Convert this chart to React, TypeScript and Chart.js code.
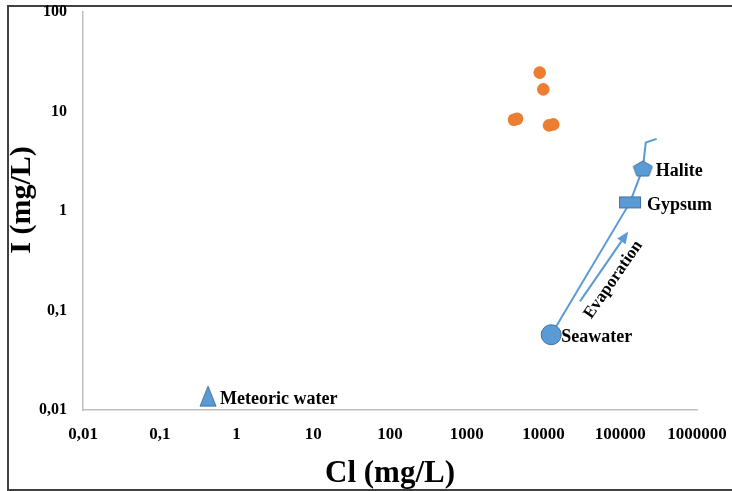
import React, { useEffect, useRef } from "react";
import { Chart, registerables } from "chart.js";

Chart.register(...registerables);

// ---- data ----
const xTickValues = [0.01, 0.1, 1, 10, 100, 1000, 10000, 100000, 1000000];
const xTickLabels = ["0,01", "0,1", "1", "10", "100", "1000", "10000", "100000", "1000000"];
const yTickValues = [0.01, 0.1, 1, 10, 100];
const yTickLabels = ["0,01", "0,1", "1", "10", "100"];

const sampleCl = [8930, 9940, 4130, 4520, 11800, 13400];
const sampleI = [24.6, 16.7, 8.27, 8.47, 7.25, 7.42];

const evapCl = [12600, 134000, 197000, 215000, 298000];
const evapI = [0.0571, 1.22, 2.68, 4.87, 5.31];

const refNames = ["Seawater", "Gypsum", "Halite", "Meteoric water"];
const refCl = [12600, 134000, 197000, 0.426];
const refI = [0.0571, 1.22, 2.68, 0.01374];

const arrowCl = [29900, 127000];
const arrowI = [0.1234, 0.622];
const evapTextCl = [81200];
const evapTextI = [0.204];

const xTitle = "Cl (mg/L)";
const yTitle = "I (mg/L)";
const evapLabel = "Evaporation";

// ---- styles ----
const BLUE = "#5B9BD5";
const BLUE_DARK = "#41719C";
const ORANGE = "#ED7D31";
const SERIF = '"Liberation Serif", "Times New Roman", serif';
const labelDx = [10, 17, 13, 12];
const labelDy = [2.5, 3, 3, 3];

function makeMarker(w: number, h: number, draw: (ctx: CanvasRenderingContext2D) => void) {
  const c = document.createElement("canvas");
  c.width = w;
  c.height = h;
  const ctx = c.getContext("2d")!;
  draw(ctx);
  return c;
}

export default function App() {
  const ref = useRef<HTMLCanvasElement | null>(null);

  useEffect(() => {
    document.body.style.margin = "0";
    const canvas = ref.current!;

    const rectImg = makeMarker(24, 14, (ctx) => {
      ctx.fillStyle = BLUE;
      ctx.fillRect(1, 1, 22, 12);
      ctx.strokeStyle = BLUE_DARK;
      ctx.lineWidth = 1;
      ctx.strokeRect(1.5, 1.5, 21, 11);
    });
    const pentImg = makeMarker(21, 17, (ctx) => {
      ctx.beginPath();
      ctx.moveTo(10.5, 1);
      ctx.lineTo(20, 6.5);
      ctx.lineTo(16.5, 16);
      ctx.lineTo(4.5, 16);
      ctx.lineTo(1, 6.5);
      ctx.closePath();
      ctx.fillStyle = BLUE;
      ctx.fill();
      ctx.strokeStyle = BLUE_DARK;
      ctx.lineWidth = 1;
      ctx.stroke();
    });
    const triImg = makeMarker(18, 22, (ctx) => {
      ctx.beginPath();
      ctx.moveTo(9, 1);
      ctx.lineTo(17, 21);
      ctx.lineTo(1, 21);
      ctx.closePath();
      ctx.fillStyle = BLUE;
      ctx.fill();
      ctx.strokeStyle = BLUE_DARK;
      ctx.lineWidth = 1;
      ctx.stroke();
    });

    const annot = {
      id: "annot",
      beforeDraw(chart: any) {
        const ctx = chart.ctx;
        ctx.save();
        ctx.fillStyle = "#ffffff";
        ctx.fillRect(0, 0, chart.width, chart.height);
        ctx.fillStyle = "#404040";
        ctx.fillRect(7, 5, chart.width, 2);
        ctx.fillRect(7, 489, chart.width, 2);
        ctx.fillRect(7, 5, 2, 486);
        ctx.restore();
      },
      afterDatasetsDraw(chart: any) {
        const ctx = chart.ctx;
        const xs = chart.scales.x;
        const ys = chart.scales.y;
        const area = chart.chartArea;
        ctx.save();
        // point labels
        ctx.fillStyle = "#000";
        ctx.font = `bold 18px ${SERIF}`;
        ctx.textAlign = "left";
        ctx.textBaseline = "middle";
        refNames.forEach((n, i) => {
          ctx.fillText(n, xs.getPixelForValue(refCl[i]) + labelDx[i], ys.getPixelForValue(refI[i]) + labelDy[i]);
        });
        // arrow
        const x1 = xs.getPixelForValue(arrowCl[0]);
        const y1 = ys.getPixelForValue(arrowI[0]);
        const x2 = xs.getPixelForValue(arrowCl[1]);
        const y2 = ys.getPixelForValue(arrowI[1]);
        const ang = Math.atan2(y2 - y1, x2 - x1);
        const headLen = 12;
        const headW = 5;
        const bx = x2 - Math.cos(ang) * headLen;
        const by = y2 - Math.sin(ang) * headLen;
        ctx.strokeStyle = BLUE;
        ctx.lineWidth = 2;
        ctx.beginPath();
        ctx.moveTo(x1, y1);
        ctx.lineTo(bx, by);
        ctx.stroke();
        ctx.fillStyle = BLUE;
        ctx.beginPath();
        ctx.moveTo(x2, y2);
        ctx.lineTo(bx + Math.sin(ang) * headW, by - Math.cos(ang) * headW);
        ctx.lineTo(bx - Math.sin(ang) * headW, by + Math.cos(ang) * headW);
        ctx.closePath();
        ctx.fill();
        // evaporation text
        ctx.save();
        ctx.translate(xs.getPixelForValue(evapTextCl[0]), ys.getPixelForValue(evapTextI[0]));
        ctx.rotate(ang);
        ctx.fillStyle = "#000";
        ctx.textAlign = "center";
        ctx.font = `bold 17px ${SERIF}`;
        ctx.fillText(evapLabel, 0, 0);
        ctx.restore();
        // axis titles
        ctx.fillStyle = "#000";
        ctx.font = `bold 31px ${SERIF}`;
        ctx.textAlign = "center";
        ctx.textBaseline = "alphabetic";
        ctx.fillText(xTitle, (area.left + area.right) / 2, 482);
        ctx.save();
        ctx.font = `bold 30px ${SERIF}`;
        ctx.translate(22, (area.top + area.bottom) / 2 - 11);
        ctx.rotate(-Math.PI / 2);
        ctx.textBaseline = "middle";
        ctx.fillText(yTitle, 0, 0);
        ctx.restore();
        ctx.restore();
      },
    };

    const chart = new Chart(canvas, {
      type: "scatter",
      data: {
        datasets: [
          {
            label: "Samples",
            data: sampleCl.map((v, i) => ({ x: v, y: sampleI[i] })),
            backgroundColor: ORANGE,
            borderColor: ORANGE,
            pointRadius: 6.3,
            borderWidth: 0,
          },
          {
            label: refNames[0],
            data: [{ x: refCl[0], y: refI[0] }],
            backgroundColor: BLUE,
            borderColor: BLUE_DARK,
            pointRadius: 10,
            borderWidth: 1,
          },
          {
            label: refNames[1],
            data: [{ x: refCl[1], y: refI[1] }],
            pointStyle: rectImg as any,
          },
          {
            label: refNames[2],
            data: [{ x: refCl[2], y: refI[2] }],
            pointStyle: pentImg as any,
          },
          {
            label: refNames[3],
            data: [{ x: refCl[3], y: refI[3] }],
            pointStyle: triImg as any,
          },
          {
            label: "Evaporation line",
            data: evapCl.map((v, i) => ({ x: v, y: evapI[i] })),
            showLine: true,
            borderColor: BLUE,
            borderWidth: 2,
            pointRadius: 0,
            fill: false,
          },
        ],
      },
      options: {
        responsive: false,
        animation: false,
        events: [],
        layout: { padding: { left: 0, top: 12, right: 35, bottom: 0 } },
        plugins: { legend: { display: false }, tooltip: { enabled: false } },
        scales: {
          x: {
            type: "logarithmic",
            min: 0.01,
            max: 1000000,
            grid: { display: false, drawTicks: false },
            border: { display: true, color: "#c0c0c0", width: 1.5 },
            afterBuildTicks: (s: any) => {
              s.ticks = xTickValues.map((v) => ({ value: v }));
            },
            afterFit: (s: any) => {
              s.height = 81;
              s.paddingLeft = 0;
              s.paddingRight = 0;
            },
            ticks: {
              autoSkip: false,
              maxRotation: 0,
              minRotation: 0,
              padding: 14,
              color: "#000",
              font: { family: SERIF, size: 17, weight: "bold" },
              callback: (v: any) => {
                const i = xTickValues.findIndex((t) => Math.abs(t - Number(v)) / t < 1e-6);
                return i >= 0 ? xTickLabels[i] : "";
              },
            },
          },
          y: {
            type: "logarithmic",
            min: 0.01,
            max: 100,
            grid: { display: false, drawTicks: false },
            border: { display: true, color: "#c0c0c0", width: 1.5 },
            afterBuildTicks: (s: any) => {
              s.ticks = yTickValues.map((v) => ({ value: v }));
            },
            afterFit: (s: any) => {
              s.width = 83;
              s.paddingTop = 0;
              s.paddingBottom = 0;
            },
            ticks: {
              autoSkip: false,
              padding: 16,
              color: "#000",
              font: { family: SERIF, size: 16, weight: "bold" },
              callback: (v: any) => {
                const i = yTickValues.findIndex((t) => Math.abs(t - Number(v)) / t < 1e-6);
                return i >= 0 ? yTickLabels[i] : "";
              },
            },
          },
        },
      },
      plugins: [annot],
    });

    return () => chart.destroy();
  }, []);

  return <canvas ref={ref} width={732} height={491} style={{ display: "block" }} />;
}
